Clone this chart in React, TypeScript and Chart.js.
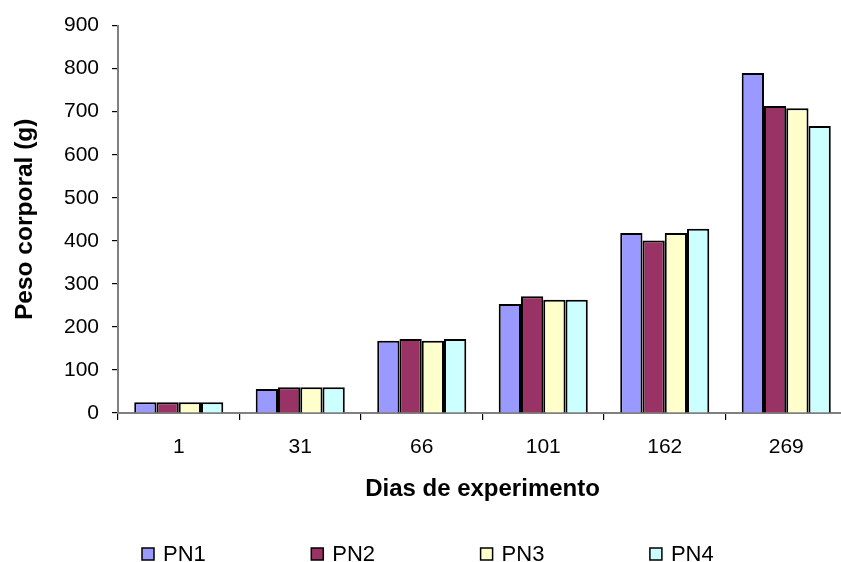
import React, { useEffect, useRef } from "react";
import { Chart, registerables } from "chart.js";

Chart.register(...registerables);

const categories = ["1", "31", "66", "101", "162", "269"];
const seriesNames = ["PN1", "PN2", "PN3", "PN4"];
const pn1 = [25, 56, 168, 253, 418, 790];
const pn2 = [25, 60, 172, 271, 401, 713];
const pn3 = [25, 60, 168, 263, 418, 708];
const pn4 = [25, 60, 172, 263, 428, 667];
const seriesValues = [pn1, pn2, pn3, pn4];
const seriesColors = ["#9999FF", "#993366", "#FFFFCC", "#CCFFFF"];
const yTicks = [0, 100, 200, 300, 400, 500, 600, 700, 800, 900];

const FONT = "'Liberation Sans', Arial, Helvetica, sans-serif";

const legendPlugin = {
  id: "customLegend",
  afterDraw(chart: any) {
    const ctx = chart.ctx;
    ctx.save();
    ctx.font = `22px ${FONT}`;
    ctx.textBaseline = "middle";
    ctx.textAlign = "left";
    const startX = 142;
    const step = 169.3;
    const cy = 554;
    chart.data.datasets.forEach((ds: any, i: number) => {
      const x = startX + i * step;
      ctx.fillStyle = ds.backgroundColor;
      ctx.fillRect(x, cy - 6, 12, 12);
      ctx.lineWidth = 1.5;
      ctx.strokeStyle = "#000";
      ctx.strokeRect(x, cy - 6, 12, 12);
      ctx.fillStyle = "#000";
      ctx.fillText(ds.label, x + 21, cy + 1);
    });
    ctx.restore();
  },
};

export default function App() {
  const ref = useRef<HTMLCanvasElement | null>(null);

  useEffect(() => {
    if (!ref.current) return;
    const chart = new Chart(ref.current, {
      type: "bar",
      data: {
        labels: categories,
        datasets: seriesNames.map((name, i) => ({
          label: name,
          data: seriesValues[i],
          backgroundColor: seriesColors[i],
          borderColor: "#000000",
          borderWidth: 2,
          categoryPercentage: 0.733,
          barPercentage: 1.0,
        })),
      },
      options: {
        responsive: false,
        animation: false,
        devicePixelRatio: 1,
        layout: { padding: { top: 23, bottom: 49, left: 0, right: 0 } },
        plugins: {
          legend: { display: false },
          tooltip: { enabled: false },
        },
        scales: {
          x: {
            offset: true,
            grid: {
              display: true,
              offset: true,
              drawOnChartArea: false,
              drawTicks: true,
              tickLength: 7,
              color: "#000000",
              lineWidth: 1.2,
            },
            border: { display: true, color: "#808080", width: 2 },
            ticks: {
              color: "#000000",
              padding: 15,
              font: { family: FONT, size: 21 },
              maxRotation: 0,
            },
            title: {
              display: true,
              text: "Dias de experimento",
              color: "#000000",
              font: { family: FONT, size: 24, weight: "bold" },
              padding: { top: 4, bottom: 9 },
            },
            afterFit: (s: any) => {
              s.height = 100;
            },
          },
          y: {
            min: 0,
            max: 900,
            afterBuildTicks: (s: any) => {
              s.ticks = yTicks.map((v) => ({ value: v }));
            },
            grid: {
              display: true,
              drawOnChartArea: false,
              drawTicks: true,
              tickLength: 6,
              color: "#000000",
              lineWidth: 1.2,
            },
            border: { display: true, color: "#808080", width: 2 },
            ticks: {
              color: "#000000",
              padding: 13,
              font: { family: FONT, size: 21 },
            },
            title: {
              display: true,
              text: "Peso corporal (g)",
              color: "#000000",
              font: { family: FONT, size: 24.5, weight: "bold" },
              padding: { top: 11, bottom: 4 },
            },
            afterFit: (s: any) => {
              s.width = 118;
            },
          },
        },
      },
      plugins: [legendPlugin],
    });
    return () => chart.destroy();
  }, []);

  return (
    <div
      style={{
        position: "fixed",
        left: 0,
        top: 0,
        width: 841,
        height: 562,
        overflow: "hidden",
        background: "#ffffff",
      }}
    >
      <canvas ref={ref} width={847} height={562} style={{ display: "block" }} />
    </div>
  );
}
